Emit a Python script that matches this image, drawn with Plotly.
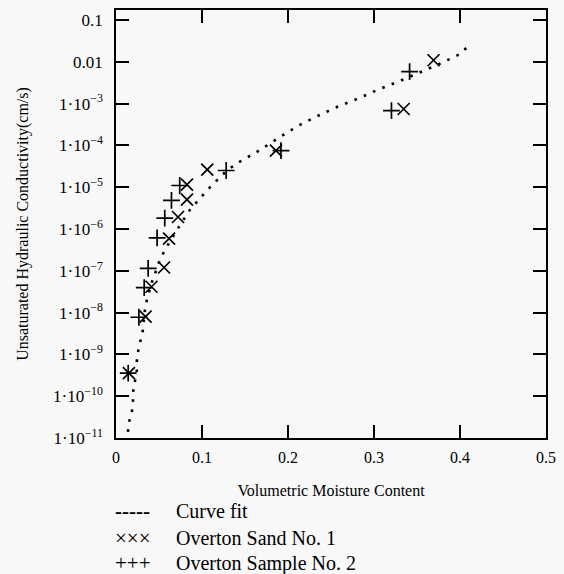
import plotly.graph_objects as go

# ---- data ----
fit_theta = [0.0139, 0.015, 0.0185, 0.0197, 0.0197, 0.022, 0.0243, 0.0243, 0.0278, 0.0313,
             0.0336, 0.0359, 0.0417, 0.0509, 0.0567, 0.0706, 0.0856, 0.0961, 0.1065, 0.118,
             0.1285, 0.1412, 0.154, 0.1667, 0.1898, 0.2118, 0.235, 0.2581, 0.2813, 0.3044,
             0.3275, 0.3519, 0.3762, 0.4005, 0.4086]
fit_k = [1.41e-11, 2.34e-11, 4.27e-11, 7.41e-11, 1.20e-10, 2.24e-10, 4.27e-10, 8.71e-10, 1.91e-9, 3.89e-9,
         1.15e-8, 2.00e-8, 5.37e-8, 1.78e-7, 3.09e-7, 9.33e-7, 2.82e-6, 5.01e-6, 8.71e-6, 1.51e-5,
         2.45e-5, 3.80e-5, 5.37e-5, 7.59e-5, 1.55e-4, 2.95e-4, 5.13e-4, 8.51e-4, 1.32e-3, 2.14e-3,
         3.31e-3, 5.50e-3, 8.91e-3, 1.55e-2, 2.29e-2]

sand1_theta = [0.0150, 0.0344, 0.0413, 0.0559, 0.0617, 0.0721, 0.0825, 0.0825, 0.1061, 0.186, 0.3345, 0.3692]
sand1_k = [3.58e-10, 8.0e-9, 4.16e-8, 1.20e-7, 5.92e-7, 1.94e-6, 5.04e-6, 1.15e-5, 2.65e-5, 7.53e-5, 7.43e-4, 1.09e-2]

sample2_theta = [0.0142, 0.0266, 0.0328, 0.0374, 0.0478, 0.0567, 0.0645, 0.0741, 0.1281, 0.1918, 0.3203, 0.3414]
sample2_k = [3.58e-10, 7.74e-9, 3.94e-8, 1.14e-7, 6.12e-7, 1.83e-6, 4.84e-6, 1.10e-5, 2.51e-5, 7.53e-5, 6.78e-4, 5.86e-3]

x_tickvals = [0, 0.1, 0.2, 0.3, 0.4, 0.5]
x_ticktext = ["0", "0.1", "0.2", "0.3", "0.4", "0.5"]
y_tickvals = [1e-11, 1e-10, 1e-9, 1e-8, 1e-7, 1e-6, 1e-5, 1e-4, 1e-3, 1e-2, 1e-1]
y_exponents = ["−11", "−10", "−9", "−8", "−7", "−6", "−5", "−4", "−3"]
y_ticktext = ["1·10<sup>%s</sup>" % e for e in y_exponents] + ["0.01", "0.1"]

legend_symbols = ["<b>-----</b>", "×××", "+++"]
legend_symbol_sizes = [21, 21, 21]
legend_labels = ["Curve fit", "Overton Sand No. 1", "Overton Sample No. 2"]

FONT = "Liberation Serif, Times New Roman, serif"
BG = "#f8f8f8"

fig = go.Figure()
fig.add_trace(go.Scatter(x=fit_theta, y=fit_k, mode="lines", name=legend_labels[0],
                         line=dict(color="black", width=2.6, dash="2.6px,7.5px")))
fig.add_trace(go.Scatter(x=sand1_theta, y=sand1_k, mode="markers", name=legend_labels[1],
                         marker=dict(symbol="x-thin", size=12, line=dict(color="black", width=1.7))))
fig.add_trace(go.Scatter(x=sample2_theta, y=sample2_k, mode="markers", name=legend_labels[2],
                         marker=dict(symbol="cross-thin", size=12, line=dict(color="black", width=1.7))))

# legend drawn as text rows below the chart
row_y = [-0.171, -0.234, -0.293]
for sym, ssz, lab, yy in zip(legend_symbols, legend_symbol_sizes, legend_labels, row_y):
    fig.add_annotation(xref="paper", yref="paper", x=-0.008, y=yy, text=sym, showarrow=False,
                       xanchor="left", yanchor="middle", font=dict(family=FONT, size=ssz, color="black"))
    fig.add_annotation(xref="paper", yref="paper", x=0.136, y=yy, text=lab, showarrow=False,
                       xanchor="left", yanchor="middle", font=dict(family=FONT, size=20, color="black"))

fig.update_layout(
    width=564, height=574,
    margin=dict(l=116, r=16, t=8, b=136),
    paper_bgcolor=BG, plot_bgcolor=BG,
    showlegend=False,
    font=dict(family=FONT, color="black"),
    xaxis=dict(range=[0, 0.5], tickvals=x_tickvals, ticktext=x_ticktext,
               showgrid=False, zeroline=False, showline=True, linecolor="black", linewidth=1.5,
               mirror="allticks", ticks="inside", ticklen=13, tickwidth=1.5, tickcolor="black",
               tickfont=dict(family=FONT, size=16), ticklabelstandoff=4,
               title=dict(text="Volumetric Moisture Content", font=dict(family=FONT, size=16), standoff=20)),
    yaxis=dict(type="log", range=[-11, -0.76], tickvals=y_tickvals, ticktext=y_ticktext,
               showgrid=False, zeroline=False, showline=True, linecolor="black", linewidth=1.5,
               mirror="allticks", ticks="inside", ticklen=13, tickwidth=1.5, tickcolor="black",
               tickfont=dict(family=FONT, size=17), ticklabelstandoff=8,
               title=dict(text="Unsaturated Hydraulic Conductivity(cm/s)", font=dict(family=FONT, size=16), standoff=20)),
)

fig.write_html("out.html", config={"displayModeBar": False},
               post_script="document.body.style.margin='0';document.body.style.background='%s';" % BG)
